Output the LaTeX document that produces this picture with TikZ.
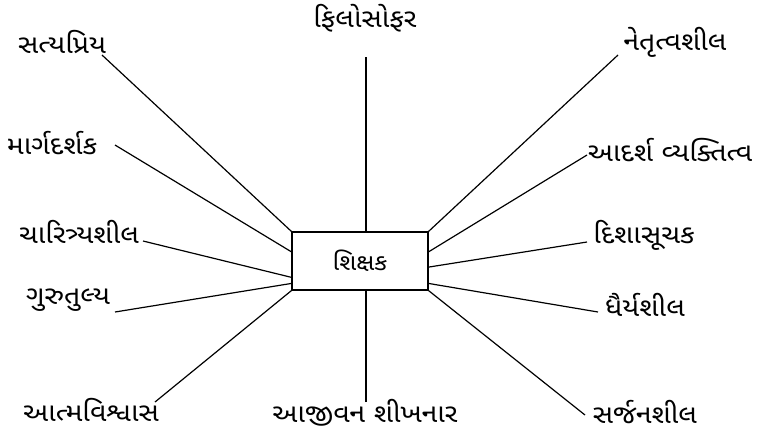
\documentclass[tikz,border=0pt]{standalone}
\usepackage{fontspec}
\newfontfamily\gujfont[Script=Gujarati,FakeStretch=1.1]{Noto Sans Gujarati UI}
\usetikzlibrary{calc}
\tikzset{
  lbl/.style={font=\gujfont\fontsize{26}{30}\selectfont, inner sep=0pt},
  conn/.style={line width=1.2pt, black},
  centerbox/.style={draw, line width=1.2pt, minimum width=136bp, minimum height=58bp, inner sep=0pt, font=\gujfont\fontsize{23}{27}\selectfont}
}
\begin{document}
\begin{tikzpicture}[x=1bp,y=-1bp]
\useasboundingbox (0,0) rectangle (762,430);
\node[centerbox] (box) at (360,261) {શિક્ષક};
% labels
\node[lbl] (l1) at (62,42) {સત્યપ્રિય};
\node[lbl] (l2) at (365,18) {ફિલોસોફર};
\node[lbl] (l3) at (675,42) {નેતૃત્વશીલ};
\node[lbl] (l4) at (52,143) {માર્ગદર્શક};
\node[lbl] (l5) at (670,150) {આદર્શ વ્યક્તિત્વ};
\node[lbl] (l6) at (79,232) {ચારિત્ર્યશીલ};
\node[lbl] (l7) at (644,235) {દિશાસૂચક};
\node[lbl] (l8) at (68,300) {ગુરુતુલ્ય};
\node[lbl] (l9) at (645,305) {ધૈર્યશીલ};
\node[lbl] (l10) at (91,410) {આત્મવિશ્વાસ};
\node[lbl] (l11) at (365,413) {આજીવન શીખનાર};
\node[lbl] (l12) at (645,412) {સર્જનશીલ};
% connector free ends
\coordinate (e1) at (102,55);
\coordinate (e2) at (366,57);
\coordinate (e3) at (618,55);
\coordinate (e4) at (115,145);
\coordinate (e5) at (587,155);
\coordinate (e6) at (143,241);
\coordinate (e7) at (587,242);
\coordinate (e8) at (115,312);
\coordinate (e9) at (598,312);
\coordinate (e10) at (155,402);
\coordinate (e11) at (366,402);
\coordinate (e12) at (585,415);
% connectors
\draw[conn] (e1) -- (box.north west);
\draw[conn] (e2) -- (e2 |- box.north);
\draw[conn] (e3) -- (box.north east);
\draw[conn] (e4) -- ($(box.north west)!0.345!(box.south west)$);
\draw[conn] (e5) -- ($(box.north east)!0.345!(box.south east)$);
\draw[conn] (e6) -- ($(box.north west)!0.776!(box.south west)$);
\draw[conn] (e7) -- ($(box.north east)!0.603!(box.south east)$);
\draw[conn] (e8) -- ($(box.north west)!0.879!(box.south west)$);
\draw[conn] (e9) -- ($(box.north east)!0.879!(box.south east)$);
\draw[conn] (e10) -- (box.south west);
\draw[conn] (e11) -- (e11 |- box.south);
\draw[conn] (e12) -- (box.south east);
\end{tikzpicture}
\end{document}
